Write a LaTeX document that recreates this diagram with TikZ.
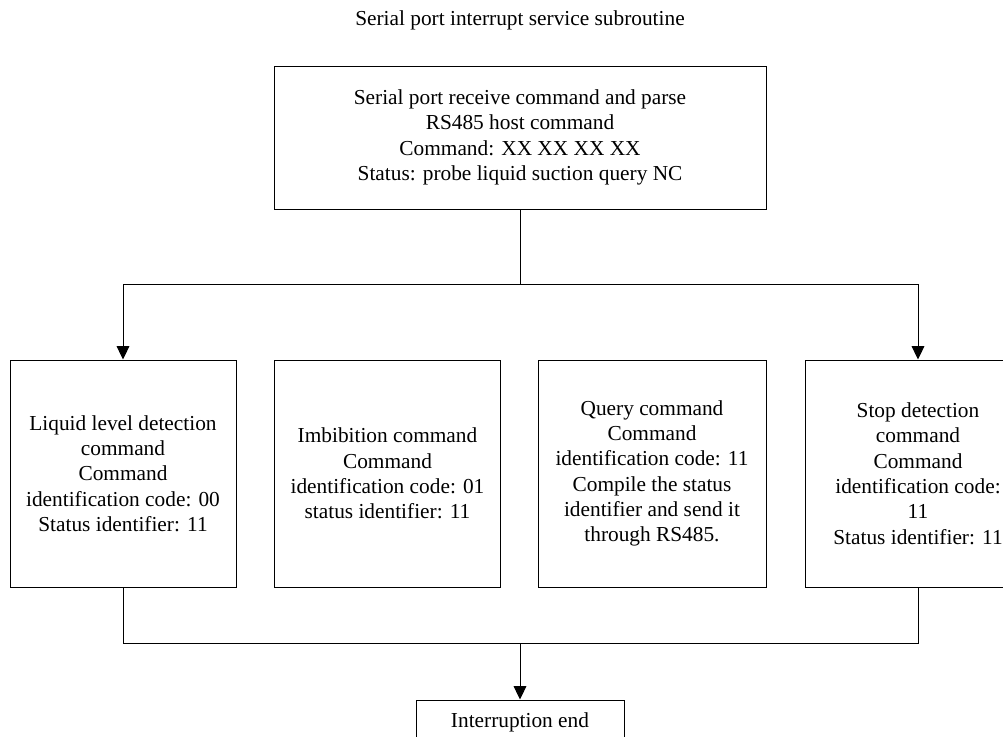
\documentclass[tikz,border=0pt]{standalone}
\usepackage{fontspec}
\setmainfont{Liberation Serif}
\usetikzlibrary{arrows.meta,positioning}

\tikzset{
    flowbox/.style={draw, line width=0.75pt, align=center, inner sep=0pt,
        font=\fontsize{16}{19}\selectfont},
    cmdbox/.style={flowbox, minimum width=169.5pt, minimum height=170.25pt},
    flowarrow/.style={line width=0.75pt, -{Triangle[length=10pt,width=9.5pt]}},
    flowline/.style={line width=0.75pt}
}

\begin{document}
\begin{tikzpicture}[x=0.75pt, y=-0.75pt]
        \useasboundingbox (0,0) rectangle (1003,736);
        \node[font=\fontsize{16}{19}\selectfont] (title) at (520,20) {Serial port interrupt service subroutine};
        \node[flowbox, minimum width=369pt, minimum height=107.25pt] (parse) at (520,137.5)
            {Serial port receive command and parse\\RS485 host command\\Command: XX XX XX XX\\Status: probe liquid suction query NC};
        \node[cmdbox] (level) at (123,473.5)
            {Liquid level detection\\command\\Command\\identification code: 00\\Status identifier: 11};
        \node[cmdbox] (imbibe) at (387.5,473.5)
            {Imbibition command\\Command\\identification code: 01\\status identifier: 11};
        \node[cmdbox, minimum width=171pt] (query) at (652,473.5)
            {Query command\\Command\\identification code: 11\\Compile the status\\identifier and send it\\through RS485.};
        \node[cmdbox] (stop) at (918,473.5)
            {Stop detection\\command\\Command\\identification code:\\11\\Status identifier: 11};
        \node[flowbox, minimum width=156pt, minimum height=33pt] (done) at (520,722) {Interruption end};
        \coordinate (split) at (520,284);
        \coordinate (join) at (520,643);
        \draw[flowline] (parse) -- (split);
        \draw[flowarrow] (split) -| (level);
        \draw[flowarrow] (split) -| (stop);
        \draw[flowline] (level) |- (join);
        \draw[flowline] (stop) |- (join);
        \draw[flowarrow] (join) -- (done);
    \end{tikzpicture}
\end{document}
